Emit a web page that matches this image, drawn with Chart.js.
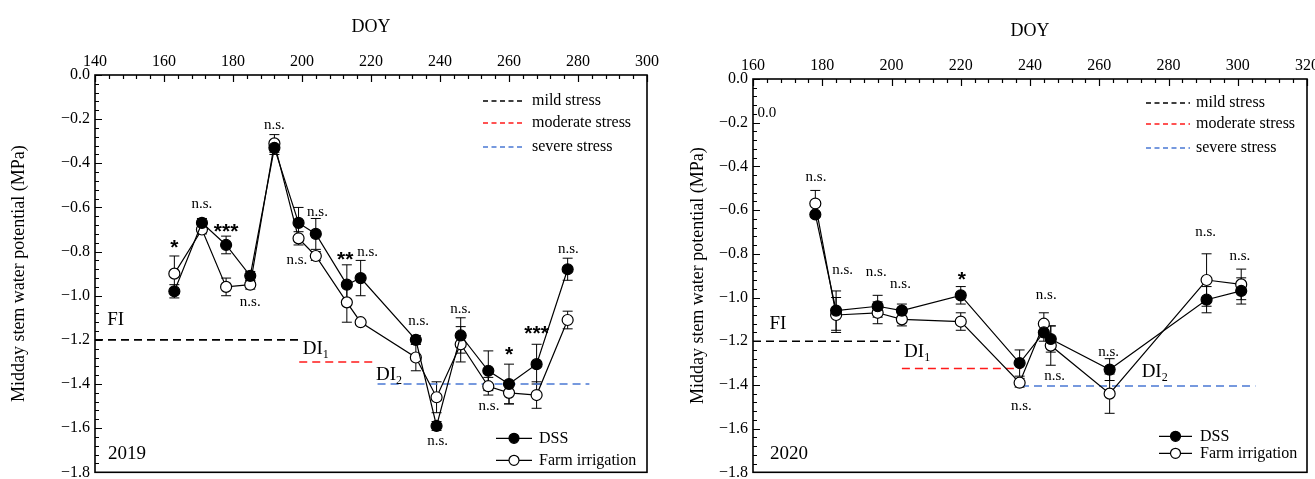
<!DOCTYPE html>
<html>
<head>
<meta charset="utf-8">
<script src="https://cdn.jsdelivr.net/npm/chart.js@4.4.0/dist/chart.umd.min.js"></script>
<style>
  body { margin: 0; background: #fff; width: 1315px; height: 479px; overflow: hidden; position: relative; }
  .panel { position: absolute; top: 0; }
</style>
</head>
<body>
<div class="panel" style="left:0"><canvas id="c2019" width="660" height="479"></canvas></div>
<div class="panel" style="left:660px"><canvas id="c2020" width="655" height="479"></canvas></div>
<script>
const SERIF = '"Liberation Serif", "Times New Roman", serif';

// 2019 数据
const doy2019 = [163, 171, 178, 185, 192, 199, 204, 213, 217, 233, 239, 246, 254, 260, 268, 277];
const dss2019 = [-0.98, -0.67, -0.77, -0.91, -0.33, -0.67, -0.72, -0.95, -0.92, -1.20, -1.59, -1.18, -1.34, -1.40, -1.31, -0.88];
const dssErr2019 = [0.03, 0.02, 0.04, 0.02, 0.03, 0.07, 0.07, 0.09, 0.08, 0.02, 0.02, 0.08, 0.09, 0.09, 0.09, 0.05];
const fi2019 = [-0.90, -0.70, -0.96, -0.95, -0.31, -0.74, -0.82, -1.03, -1.12, -1.28, -1.46, -1.22, -1.41, -1.44, -1.45, -1.11];
const fiErr2019 = [0.08, 0.02, 0.04, 0.02, 0.04, 0.03, 0.02, 0.09, 0.01, 0.06, 0.07, 0.08, 0.04, 0.05, 0.06, 0.04];
const sigText2019 = ['*', 'n.s.', '***', 'n.s.', 'n.s.', 'n.s.', 'n.s.', '**', 'n.s.', 'n.s.', 'n.s.', 'n.s.', 'n.s.', '*', '***', 'n.s.'];
const sigX2019 = [163, 171, 178, 185, 192, 204.5, 198.5, 212.5, 219, 233.8, 239.3, 246, 254.2, 260, 268, 277.2];
const sigY2019 = [-0.76, -0.585, -0.69, -1.03, -0.225, -0.62, -0.84, -0.815, -0.80, -1.115, -1.66, -1.06, -1.50, -1.245, -1.15, -0.79];
const stressLevel2019 = [-1.2, -1.3, -1.4];
const stressFrom2019 = [140, 199.2, 221.9];
const stressTo2019 = [199.2, 220.7, 283.3];
const phaseX2019 = [146, 204, 225.2];
const phaseY2019 = [-1.11, -1.24, -1.36];

// 2020 数据
const doy2020 = [178, 184, 196, 203, 220, 237, 244, 246, 263, 291, 301];
const dss2020 = [-0.62, -1.06, -1.04, -1.06, -0.99, -1.30, -1.16, -1.19, -1.33, -1.01, -0.97];
const dssErr2020 = [0.01, 0.09, 0.05, 0.03, 0.04, 0.06, 0.04, 0.06, 0.05, 0.06, 0.06];
const fi2020 = [-0.57, -1.08, -1.07, -1.10, -1.11, -1.39, -1.12, -1.22, -1.44, -0.92, -0.94];
const fiErr2020 = [0.06, 0.08, 0.05, 0.03, 0.04, 0.02, 0.05, 0.09, 0.09, 0.12, 0.07];
const sigText2020 = ['n.s.', 'n.s.', 'n.s.', 'n.s.', '*', 'n.s.', 'n.s.', 'n.s.', 'n.s.', 'n.s.', 'n.s.'];
const sigX2020 = [178.2, 185.9, 195.6, 202.6, 220.3, 237.5, 244.7, 247.1, 262.7, 290.7, 300.6];
const sigY2020 = [-0.45, -0.875, -0.883, -0.94, -0.90, -1.495, -0.99, -1.36, -1.25, -0.70, -0.81];
const stressLevel2020 = [-1.2, -1.325, -1.405];
const stressFrom2020 = [160, 203, 237.4];
const stressTo2020 = [202.3, 237.4, 305.1];
const phaseX2020 = [167.2, 207.4, 276];
const phaseY2020 = [-1.12, -1.25, -1.34];

// 共用
const stressNames = ['mild stress', 'moderate stress', 'severe stress'];
const stressColors = ['#000000', '#ff1a1a', '#4a78d4'];
const phaseMain = ['FI', 'DI', 'DI'];
const phaseSub = ['', '1', '2'];
const seriesNames = ['DSS', 'Farm irrigation'];

function fmtY(v) {
  if (Math.abs(v) < 1e-9) return '0.0';
  return (v < 0 ? '\u2212' : '') + Math.abs(v).toFixed(1);
}

function makePanel(id, p) {
  const pts = (xs, ys) => xs.map((x, i) => ({ x: x, y: ys[i] }));

  const datasets = [
    {
      label: seriesNames[0], data: pts(p.doy, p.dss),
      borderColor: '#000', borderWidth: 1.2, backgroundColor: '#000',
      pointRadius: 5.5, pointBorderWidth: 1.2, pointBackgroundColor: '#000', pointBorderColor: '#000',
      order: 1
    },
    {
      label: seriesNames[1], data: pts(p.doy, p.fi),
      borderColor: '#000', borderWidth: 1.2,
      pointRadius: 5.5, pointBorderWidth: 1.2, pointBackgroundColor: '#fff', pointBorderColor: '#000',
      order: 2
    }
  ];
  p.level.forEach((lv, i) => {
    datasets.push({
      label: stressNames[i],
      data: [{ x: p.from[i], y: lv }, { x: p.to[i], y: lv }],
      borderColor: stressColors[i], borderWidth: 1.6, borderDash: [8, 5],
      pointRadius: 0, order: 3
    });
  });

  const extras = {
    id: 'extras',
    beforeDatasetsDraw(chart) {
      // 误差线
      const { ctx, scales: { x, y } } = chart;
      ctx.save();
      ctx.strokeStyle = '#000';
      ctx.lineWidth = 1;
      [[p.dss, p.dssErr], [p.fi, p.fiErr]].forEach(([vals, errs]) => {
        vals.forEach((v, i) => {
          const px = x.getPixelForValue(p.doy[i]);
          const t = y.getPixelForValue(v + errs[i]);
          const b = y.getPixelForValue(v - errs[i]);
          ctx.beginPath();
          ctx.moveTo(px, t); ctx.lineTo(px, b);
          ctx.moveTo(px - 5, t); ctx.lineTo(px + 5, t);
          ctx.moveTo(px - 5, b); ctx.lineTo(px + 5, b);
          ctx.stroke();
        });
      });
      ctx.restore();
    },
    afterDatasetsDraw(chart) {
      const { ctx, chartArea: a, scales: { x, y } } = chart;
      ctx.save();
      ctx.fillStyle = '#000';
      ctx.textAlign = 'center';
      ctx.textBaseline = 'middle';

      // 显著性标记
      p.sigText.forEach((t, i) => {
        const px = x.getPixelForValue(p.sigX[i]);
        const py = y.getPixelForValue(p.sigY[i]);
        if (t[0] === '*') {
          ctx.font = 'bold 21px "Liberation Sans", sans-serif';
          ctx.fillText(t, px, py + 5);
        } else {
          ctx.font = '15px ' + SERIF;
          ctx.fillText(t, px, py);
        }
      });

      // FI / DI1 / DI2
      phaseMain.forEach((t, i) => {
        const px = x.getPixelForValue(p.phaseX[i]);
        const py = y.getPixelForValue(p.phaseY[i]);
        ctx.font = '19px ' + SERIF;
        const w1 = ctx.measureText(t).width;
        ctx.font = '12px ' + SERIF;
        const w2 = phaseSub[i] ? ctx.measureText(phaseSub[i]).width : 0;
        const x0 = px - (w1 + w2) / 2;
        ctx.textAlign = 'left';
        ctx.font = '19px ' + SERIF;
        ctx.fillText(t, x0, py);
        if (phaseSub[i]) {
          ctx.font = '12px ' + SERIF;
          ctx.fillText(phaseSub[i], x0 + w1, py + 6);
        }
      });

      // 年份
      ctx.textAlign = 'left';
      ctx.font = '19px ' + SERIF;
      ctx.fillText(p.year, a.left + p.yearDx, a.bottom - 18);

      if (p.extraText) {
        ctx.font = '15px ' + SERIF;
        ctx.fillText(p.extraText, x.getPixelForValue(p.extraX), y.getPixelForValue(p.extraY));
      }

      // 胁迫图例
      ctx.font = '16px ' + SERIF;
      stressNames.forEach((n, i) => {
        const ly = a.top + p.lgTop[i];
        ctx.strokeStyle = stressColors[i];
        ctx.lineWidth = 1.4;
        ctx.setLineDash([5, 3.5]);
        ctx.beginPath();
        ctx.moveTo(a.right - p.lgDash[0], ly);
        ctx.lineTo(a.right - p.lgDash[1], ly);
        ctx.stroke();
        ctx.setLineDash([]);
        ctx.fillText(n, a.right - p.lgDash[2], ly);
      });

      // 处理图例
      seriesNames.forEach((n, i) => {
        const ly = a.bottom - p.lgBot[i];
        const x0 = a.right - p.lgLine[0], x1 = a.right - p.lgLine[1];
        ctx.strokeStyle = '#000';
        ctx.lineWidth = 1.2;
        ctx.beginPath();
        ctx.moveTo(x0, ly); ctx.lineTo(x1, ly); ctx.stroke();
        ctx.beginPath();
        ctx.arc((x0 + x1) / 2, ly, 5, 0, Math.PI * 2);
        ctx.fillStyle = i === 0 ? '#000' : '#fff';
        ctx.fill();
        ctx.stroke();
        ctx.fillStyle = '#000';
        ctx.fillText(n, a.right - p.lgLine[2], ly);
      });
      ctx.restore();
    },
    afterDraw(chart) {
      // 内向刻度与边框
      const { ctx, chartArea: a, scales: { x, y } } = chart;
      ctx.save();
      ctx.strokeStyle = '#000';
      ctx.lineWidth = 1.2;
      ctx.beginPath();
      for (let v = p.xMin; v <= p.xMax + 1e-6; v += 4) {
        const px = Math.round(x.getPixelForValue(v)) + 0.5;
        const major = Math.abs((v - p.xMin) % 20) < 1e-6;
        ctx.moveTo(px, a.top); ctx.lineTo(px, a.top + (major ? 7 : 4));
      }
      for (let k = 0; k <= 45; k++) {
        const v = -k * 0.04;
        const py = Math.round(y.getPixelForValue(v)) + 0.5;
        const major = k % 5 === 0;
        ctx.moveTo(a.left, py); ctx.lineTo(a.left + (major ? 7 : 4), py);
      }
      ctx.stroke();
      ctx.lineWidth = 1.6;
      ctx.strokeRect(a.left, a.top, a.right - a.left, a.bottom - a.top);
      ctx.restore();
    }
  };

  return new Chart(document.getElementById(id), {
    type: 'line',
    data: { datasets: datasets },
    options: {
      responsive: false,
      devicePixelRatio: 1,
      animation: false,
      layout: { padding: p.pad },
      plugins: { legend: { display: false }, tooltip: { enabled: false } },
      scales: {
        x: {
          type: 'linear', position: 'top', min: p.xMin, max: p.xMax,
          grid: { display: false, drawTicks: false },
          border: { display: false },
          ticks: {
            stepSize: 20, padding: 4, maxRotation: 0, color: '#000',
            font: { family: SERIF, size: 16 },
            callback: v => String(v)
          },
          title: {
            display: true, text: 'DOY', color: '#000',
            font: { family: SERIF, size: 18 },
            padding: { top: p.doyPad, bottom: 0 }
          },
          afterFit: s => { s.height = p.xH; s.paddingLeft = 0; s.paddingRight = 0; }
        },
        y: {
          min: -1.8, max: 0,
          grid: { display: false, drawTicks: false },
          border: { display: false },
          ticks: {
            stepSize: 0.2, padding: 5, color: '#000',
            font: { family: SERIF, size: 16 },
            callback: v => fmtY(v)
          },
          title: {
            display: true, text: 'Midday stem water potential (MPa)', color: '#000',
            font: { family: SERIF, size: 18 },
            padding: { top: p.yTitlePad, bottom: 0 }
          },
          afterFit: s => { s.width = p.yW; s.paddingTop = 0; s.paddingBottom = 0; }
        }
      }
    },
    plugins: [extras]
  });
}

makePanel('c2019', {
  year: '2019', yearDx: 13,
  doy: doy2019, dss: dss2019, dssErr: dssErr2019, fi: fi2019, fiErr: fiErr2019,
  sigText: sigText2019, sigX: sigX2019, sigY: sigY2019,
  level: stressLevel2019, from: stressFrom2019, to: stressTo2019,
  phaseX: phaseX2019, phaseY: phaseY2019,
  xMin: 140, xMax: 300,
  pad: { left: 0, top: 0, right: 13, bottom: 6 },
  xH: 75, yW: 95, doyPad: 16, yTitlePad: 8,
  lgTop: [26, 48, 72], lgDash: [164, 122, 115],
  lgBot: [34, 12], lgLine: [151, 115, 108]
});

makePanel('c2020', {
  year: '2020', yearDx: 17,
  doy: doy2020, dss: dss2020, dssErr: dssErr2020, fi: fi2020, fiErr: fiErr2020,
  sigText: sigText2020, sigX: sigX2020, sigY: sigY2020,
  level: stressLevel2020, from: stressFrom2020, to: stressTo2020,
  phaseX: phaseX2020, phaseY: phaseY2020,
  extraText: '0.0', extraX: 161.3, extraY: -0.155,
  xMin: 160, xMax: 320,
  pad: { left: 22, top: 0, right: 8, bottom: 1 },
  xH: 79, yW: 71, doyPad: 20, yTitlePad: 5,
  lgTop: [24, 45, 69], lgDash: [161, 117, 111],
  lgBot: [36, 19], lgLine: [148, 115, 107]
});
</script>
</body>
</html>
